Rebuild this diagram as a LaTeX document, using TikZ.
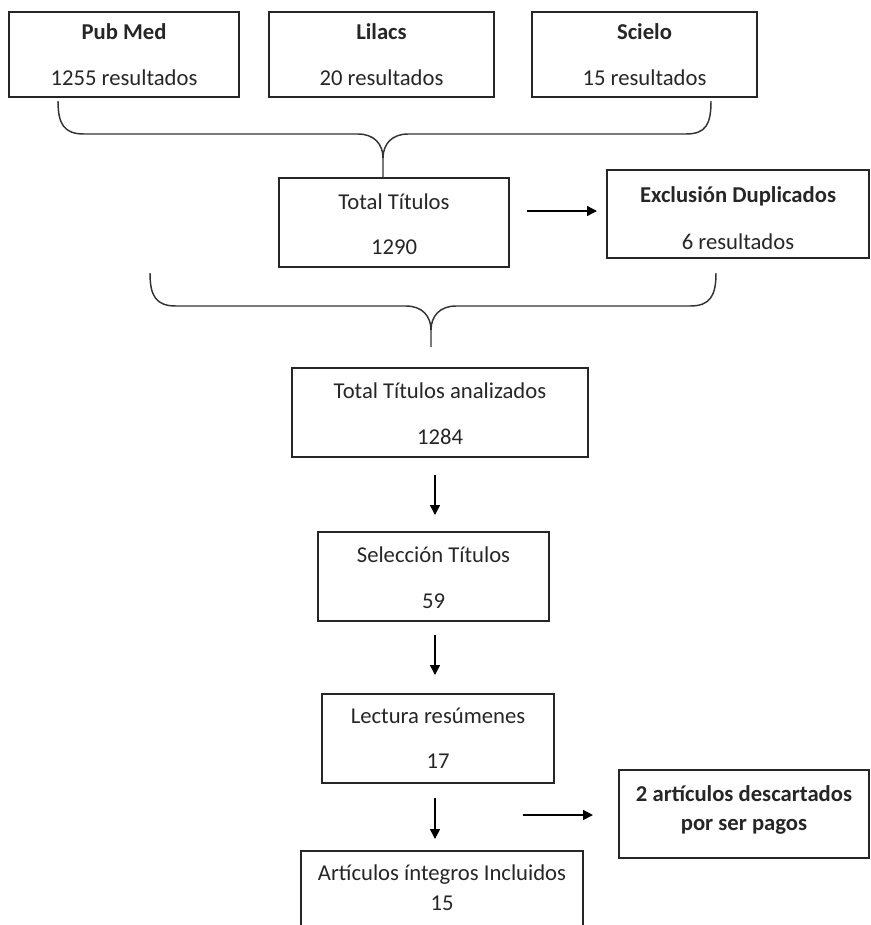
\documentclass[tikz,border=0pt]{standalone}
\usepackage{fontspec}
\setmainfont{Carlito}
\usetikzlibrary{arrows.meta}
\begin{document}
\begin{tikzpicture}[x=0.75pt,y=-0.75pt,
  box/.style={draw=black!85, line width=1.2pt, rectangle, inner sep=0pt},
  txt/.style={anchor=base, inner sep=0pt, font=\fontsize{17}{20}\selectfont, text=black!85},
  btxt/.style={txt, font=\fontsize{17}{20}\selectfont\bfseries},
  arr/.style={line width=1.1pt, draw=black, -{Triangle[length=7.5pt,width=7.5pt]}},
  brace/.style={line width=1.1pt, draw=black!80, line join=round}]
\useasboundingbox (0,0) rectangle (871,925);

% boxes
\node[box, minimum width=172.5pt, minimum height=63.75pt] (pub) at (124,54.5) {};
\node[box, minimum width=168.75pt, minimum height=63.75pt] (lil) at (381.5,54.5) {};
\node[box, minimum width=168.75pt, minimum height=63.75pt] (sci) at (644.5,54.5) {};
\node[box, minimum width=172.5pt, minimum height=66.75pt] (tot) at (394,222.5) {};
\node[box, minimum width=196.5pt, minimum height=66pt] (exc) at (738,214) {};
\node[box, minimum width=222pt, minimum height=66.75pt] (ana) at (440,412.5) {};
\node[box, minimum width=173.25pt, minimum height=66.75pt] (sel) at (433.5,576.5) {};
\node[box, minimum width=174pt, minimum height=66.75pt] (lec) at (438,738.5) {};
\node[box, minimum width=187.5pt, minimum height=66pt] (des) at (744,814) {};
\node[box, minimum width=211.5pt, minimum height=66.75pt] (art) at (442,895.5) {};

% texts
\node[btxt] (pubt) at (124,39) {Pub Med};
\node[txt] (pubn) at (124,85) {1255 resultados};
\node[btxt] (lilt) at (381.5,39) {Lilacs};
\node[txt] (liln) at (381.5,85) {20 resultados};
\node[btxt] (scit) at (644.5,39) {Scielo};
\node[txt] (scin) at (644.5,85) {15 resultados};
\node[txt] (tott) at (394,209) {Total Títulos};
\node[txt] (totn) at (394,254) {1290};
\node[btxt] (exct) at (738,202) {Exclusión Duplicados};
\node[txt] (excn) at (738,249) {6 resultados};
\node[txt] (anat) at (440,398) {Total Títulos analizados};
\node[txt] (anan) at (440,444) {1284};
\node[txt] (selt) at (433.5,562) {Selección Títulos};
\node[txt] (seln) at (433.5,608) {59};
\node[txt] (lect) at (438,723) {Lectura resúmenes};
\node[txt] (lecn) at (438,768) {17};
\node[btxt] (dest) at (744,801) {2 artículos descartados};
\node[btxt] (desn) at (744,830) {por ser pagos};
\node[txt] (artt) at (442,880) {Artículos íntegros Incluidos};
\node[txt] (artn) at (442,910) {15};

% arrow end points
\coordinate (a1s) at (527,211); \coordinate (a1e) at (597,211);
\coordinate (a2s) at (435,475); \coordinate (a2e) at (435,515);
\coordinate (a3s) at (435,635); \coordinate (a3e) at (435,675);
\coordinate (a4s) at (435,798); \coordinate (a4e) at (435,839);
\coordinate (a5s) at (523,815); \coordinate (a5e) at (593,815);

\draw[arr] (a1s) -- (a1e);
\draw[arr] (a2s) -- (a2e);
\draw[arr] (a3s) -- (a3e);
\draw[arr] (a4s) -- (a4e);
\draw[arr] (a5s) -- (a5e);

% braces
\draw[brace] (58,101) .. controls (58,124) and (64,134) .. (84,134) -- (358,134)
  .. controls (374,134) and (383,144) .. (383,158) -- (383,178);
\draw[brace] (383,158) .. controls (383,144) and (392,134) .. (408,134) -- (686,134)
  .. controls (706,134) and (711,124) .. (711,101);
\draw[brace] (150,273) .. controls (150,296) and (156,306) .. (176,306) -- (406,306)
  .. controls (422,306) and (431,316) .. (431,330) -- (431,347);
\draw[brace] (431,330) .. controls (431,316) and (440,306) .. (456,306) -- (690,306)
  .. controls (710,306) and (716,296) .. (716,273);
\end{tikzpicture}
\end{document}
